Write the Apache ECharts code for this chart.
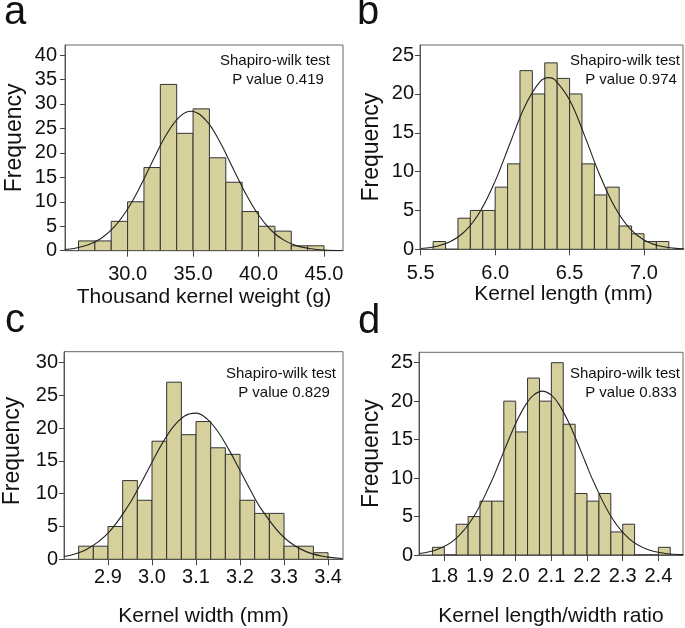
<!DOCTYPE html>
<html>
<head>
<meta charset="utf-8">
<script src="https://cdn.jsdelivr.net/npm/echarts/dist/echarts.min.js"></script>
<style>
html,body{margin:0;padding:0;background:#fff;}
#chart{width:685px;height:628px;}
</style>
</head>
<body>
<div id="chart"></div>
<script>
// ---- Panel a: Thousand kernel weight ----
const aEdges = [26.25,27.5,28.75,30,31.25,32.5,33.75,35,36.25,37.5,38.75,40,41.25,42.5,43.75,45];
const aCounts = [2,2,6,10,17,34,24,29,19,14,8,5,4,1,1];
const aCurveX = [25.2,26,27,28,29,30,31,32,33,34,34.85,36,37,38,39,40,41,42,43,44,45,46.4];
const aCurveY = [0.24,0.51,1.2,2.56,4.91,8.52,13.31,18.78,23.9,27.46,28.5,26.62,22.48,17.12,11.77,7.3,4.08,2.06,0.94,0.39,0.14,0.03];
const aXTicks = [30,35,40,45];
const aYTicks = [0,5,10,15,20,25,30,35,40];

// ---- Panel b: Kernel length ----
const bEdges = [5.5833,5.6667,5.75,5.8333,5.9167,6.0,6.0833,6.1667,6.25,6.3333,6.4167,6.5,6.5833,6.6667,6.75,6.8333,6.9167,7.0,7.0833,7.1667];
const bCounts = [1,0,4,5,5,8,11,23,20,24,22,20,11,7,8,3,2,1,1];
const bCurveX = [5.5,5.6,5.7,5.8,5.9,6.0,6.1,6.2,6.3,6.36,6.4,6.5,6.6,6.7,6.8,6.9,7.0,7.1,7.2,7.27];
const bCurveY = [0.11,0.36,0.99,2.37,4.9,8.78,13.66,18.42,21.54,22.1,21.85,19.22,14.67,9.7,5.57,2.77,1.2,0.45,0.15,0.06];
const bXTicks = [5.5,6.0,6.5,7.0];
const bYTicks = [0,5,10,15,20,25];

// ---- Panel c: Kernel width ----
const cEdges = [2.8333,2.8667,2.9,2.9333,2.9667,3.0,3.0333,3.0667,3.1,3.1333,3.1667,3.2,3.2333,3.2667,3.3,3.3333,3.3667,3.4];
const cCounts = [2,2,5,12,9,18,27,19,21,17,16,9,7,7,2,2,1];
const cCurveX = [2.8,2.85,2.9,2.95,2.975,3.0,3.025,3.05,3.075,3.1,3.125,3.15,3.175,3.2,3.225,3.25,3.3,3.35,3.4,3.433];
const cCurveY = [0.43,1.47,3.98,8.59,11.61,14.81,17.86,20.34,21.9,22.28,21.41,19.44,16.68,13.53,10.37,7.5,3.32,1.17,0.33,0.13];
const cXTicks = [2.9,3.0,3.1,3.2,3.3,3.4];
const cYTicks = [0,5,10,15,20,25,30];

// ---- Panel d: Kernel length/width ratio ----
const dEdges = [1.7667,1.8,1.8333,1.8667,1.9,1.9333,1.9667,2.0,2.0333,2.0667,2.1,2.1333,2.1667,2.2,2.2333,2.2667,2.3,2.3333,2.3667,2.4,2.4333];
const dCounts = [1,0,4,5,7,7,20,16,23,20,25,17,8,7,8,3,4,0,0,1];
const dCurveX = [1.73,1.78,1.83,1.88,1.93,1.955,1.98,2.005,2.03,2.05,2.075,2.1,2.12,2.145,2.17,2.195,2.22,2.27,2.32,2.37,2.42,2.47];
const dCurveY = [0.2,0.71,2.03,4.81,9.35,12.12,14.96,17.58,19.68,20.78,21.3,20.78,19.68,17.58,14.96,12.12,9.35,4.81,2.03,0.71,0.2,0.05];
const dXTicks = [1.8,1.9,2.0,2.1,2.2,2.3,2.4];
const dYTicks = [0,5,10,15,20,25];

const panels = [
  {edges:aEdges, counts:aCounts, cx:aCurveX, cy:aCurveY, xt:aXTicks, yt:aYTicks,
   grid:{left:65, top:45, width:278, height:205.7}, xr:[25.22,46.45], yr:[0,42.06],
   xName:'Thousand kernel weight (g)', xGap:36, xPad:[0,0,0,0], yGap:39, yPad:[0,0,0,20],
   xLabelMargin:14, yLabelMargin:8, p:'P value 0.419'},
  {edges:bEdges, counts:bCounts, cx:bCurveX, cy:bCurveY, xt:bXTicks, yt:bYTicks,
   grid:{left:420, top:45, width:263, height:204.3}, xr:[5.495,7.262], yr:[0,26.3],
   xName:'Kernel length (mm)', xGap:34, xPad:[0,0,0,24], yGap:37, yPad:[0,0,0,0],
   xLabelMargin:14, yLabelMargin:6, p:'P value 0.974'},
  {edges:cEdges, counts:cCounts, cx:cCurveX, cy:cCurveY, xt:cXTicks, yt:cYTicks,
   grid:{left:64, top:351.7, width:279, height:207.6}, xr:[2.8,3.434], yr:[0,31.65],
   xName:'Kernel width (mm)', xGap:46, xPad:[0,0,0,0], yGap:40, yPad:[0,0,0,9],
   xLabelMargin:8, yLabelMargin:6, p:'P value 0.829'},
  {edges:dEdges, counts:dCounts, cx:dCurveX, cy:dCurveY, xt:dXTicks, yt:dYTicks,
   grid:{left:419, top:352.3, width:264, height:203.7}, xr:[1.729,2.469], yr:[0,26.35],
   xName:'Kernel length/width ratio', xGap:51, xPad:[0,0,0,0], yGap:36, yPad:[0,0,0,0],
   xLabelMargin:11, yLabelMargin:6, p:'P value 0.833'}
];

const FONT = 'Liberation Sans, Arial, sans-serif';
const grids = [], xAxes = [], yAxes = [], series = [];

panels.forEach((pn, i) => {
  grids.push(Object.assign({show:true, borderColor:'#666', borderWidth:1, backgroundColor:'transparent'}, pn.grid));
  xAxes.push({
    type:'value', gridIndex:i, min:pn.xr[0], max:pn.xr[1],
    name:pn.xName, nameLocation:'middle', nameGap:pn.xGap,
    nameTextStyle:{fontFamily:FONT, fontSize:21, color:'#111', padding:pn.xPad},
    axisLine:{show:true, lineStyle:{color:'#555', width:1}},
    axisTick:{show:true, length:6, lineStyle:{color:'#444'}, customValues:pn.xt},
    axisLabel:{show:true, customValues:pn.xt, margin:pn.xLabelMargin, fontFamily:FONT, fontSize:20, color:'#111',
      formatter:v => Number(v).toFixed(1)},
    splitLine:{show:false}
  });
  yAxes.push({
    type:'value', gridIndex:i, min:pn.yr[0], max:pn.yr[1],
    name:'Frequency', nameLocation:'middle', nameGap:pn.yGap,
    nameTextStyle:{fontFamily:FONT, fontSize:23, color:'#111', padding:pn.yPad},
    axisLine:{show:true, lineStyle:{color:'#555', width:1}},
    axisTick:{show:true, length:5, lineStyle:{color:'#444'}, customValues:pn.yt},
    axisLabel:{show:true, customValues:pn.yt, margin:pn.yLabelMargin, fontFamily:FONT, fontSize:20, color:'#111'},
    splitLine:{show:false}
  });
  const barData = pn.counts.map((c, k) => [pn.edges[k], pn.edges[k+1], c]);
  series.push({
    type:'custom', xAxisIndex:i, yAxisIndex:i, data:barData, clip:true,
    renderItem:(params, api) => {
      const p0 = api.coord([api.value(0), api.value(2)]);
      const p1 = api.coord([api.value(1), 0]);
      return {type:'rect', shape:{x:p0[0], y:p0[1], width:p1[0]-p0[0], height:p1[1]-p0[1]},
        style:{fill:'#d5d09c', stroke:'#333', lineWidth:1}};
    },
    encode:{x:[0,1], y:2}
  });
  series.push({
    type:'line', xAxisIndex:i, yAxisIndex:i, data:pn.cx.map((x,k)=>[x, pn.cy[k]]),
    smooth:0.4, showSymbol:false, symbol:'none', clip:true, z:5,
    lineStyle:{color:'#222', width:1.1}
  });
});

const ann = [
  {x:275, y:53, t1:'Shapiro-wilk test', t2:panels[0].p, dx:3},
  {x:625, y:53, t1:'Shapiro-wilk test', t2:panels[1].p, dx:6},
  {x:281, y:366, t1:'Shapiro-wilk test', t2:panels[2].p, dx:3},
  {x:625, y:366, t1:'Shapiro-wilk test', t2:panels[3].p, dx:6}
];
const graphics = [];
ann.forEach(a => {
  graphics.push({type:'text', x:a.x, y:a.y, z:10,
    style:{text:a.t1, fontFamily:FONT, fontSize:15, fill:'#111', textAlign:'center', textVerticalAlign:'top'}});
  graphics.push({type:'text', x:a.x + a.dx, y:a.y + 19, z:10,
    style:{text:a.t2, fontFamily:FONT, fontSize:15, fill:'#111', textAlign:'center', textVerticalAlign:'top'}});
});
const letters = [
  {t:'a', x:4, y:33}, {t:'b', x:357, y:33}, {t:'c', x:5, y:341}, {t:'d', x:358, y:342}
];
letters.forEach(l => {
  graphics.push({type:'text', x:l.x, y:l.y, z:10,
    style:{text:l.t, fontFamily:FONT, fontSize:40, fill:'#111', textAlign:'left', textVerticalAlign:'bottom'}});
});

const chart = echarts.init(document.getElementById('chart'), null, {renderer:'canvas'});
chart.setOption({
  animation:false,
  backgroundColor:'#fff',
  grid:grids, xAxis:xAxes, yAxis:yAxes, series:series, graphic:graphics
});
</script>
</body>
</html>
